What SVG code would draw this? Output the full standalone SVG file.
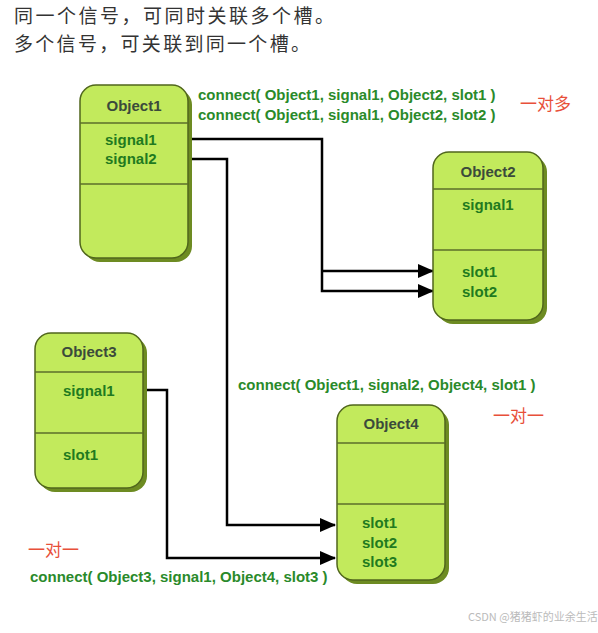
<svg xmlns="http://www.w3.org/2000/svg" width="598" height="633" viewBox="0 0 598 633">
<style>
.cn{font-family:"Noto Sans CJK SC",sans-serif;font-size:19px;fill:#333}
.red{font-family:"Noto Sans CJK SC",sans-serif;font-size:17px;fill:#e8503a}
.code{font-family:"Liberation Sans",Arial,sans-serif;font-size:15px;font-weight:bold;fill:#2a8a2a}
.title{font-family:"Liberation Sans",Arial,sans-serif;font-size:15px;font-weight:bold;fill:#3b4a3b;text-anchor:middle}
.item{font-family:"Liberation Sans",Arial,sans-serif;font-size:15px;font-weight:bold;fill:#1f7a1f}
.shadow{fill:#6d8b22}
.box{fill:#c2ea5c;stroke:#50661c;stroke-width:1.5}
.div{stroke:#5b6e2a;stroke-width:1.5}
.wire{fill:none;stroke:#000;stroke-width:2.5}
.wm{font-family:"Noto Sans CJK SC",sans-serif;font-size:11px;fill:#bbb}
</style>
<defs>
<marker id="arr" markerWidth="16" markerHeight="14" refX="15" refY="7" orient="auto" markerUnits="userSpaceOnUse">
<path d="M0,0 L16,7 L0,14 Z" fill="#000"/>
</marker>
</defs>
<text class="cn" x="14" y="23" textLength="320" lengthAdjust="spacing">同一个信号，可同时关联多个槽。</text>
<text class="cn" x="14" y="51" textLength="296" lengthAdjust="spacing">多个信号，可关联到同一个槽。</text>
<g id="connectors">
<polyline class="wire" points="190,139 322,139 322,291 433,291" marker-end="url(#arr)"/>
<polyline class="wire" points="322,271 433,271" marker-end="url(#arr)"/>
<polyline class="wire" points="190,159 227,159 227,525 335,525" marker-end="url(#arr)"/>
<polyline class="wire" points="145,390 167,390 167,558 335,558" marker-end="url(#arr)"/>
</g>
<g id="object1">
<rect class="shadow" x="84" y="89" width="108" height="173" rx="16"/>
<rect class="box" x="80" y="85" width="108" height="173" rx="16"/>
<line class="div" x1="80" y1="123" x2="188" y2="123"/>
<line class="div" x1="80" y1="184" x2="188" y2="184"/>
<text class="title" x="134" y="111">Object1</text>
<text class="item" x="105" y="145">signal1</text>
<text class="item" x="105" y="164">signal2</text>
</g>
<g id="object2">
<rect class="shadow" x="437" y="156" width="110" height="168" rx="16"/>
<rect class="box" x="433" y="152" width="110" height="168" rx="16"/>
<line class="div" x1="433" y1="189" x2="543" y2="189"/>
<line class="div" x1="433" y1="250" x2="543" y2="250"/>
<text class="title" x="488" y="177">Object2</text>
<text class="item" x="462" y="210">signal1</text>
<text class="item" x="462" y="277">slot1</text>
<text class="item" x="462" y="297">slot2</text>
</g>
<g id="object3">
<rect class="shadow" x="39" y="337" width="108" height="155" rx="16"/>
<rect class="box" x="35" y="333" width="108" height="155" rx="16"/>
<line class="div" x1="35" y1="372" x2="143" y2="372"/>
<line class="div" x1="35" y1="433" x2="143" y2="433"/>
<text class="title" x="89" y="357">Object3</text>
<text class="item" x="63" y="396">signal1</text>
<text class="item" x="63" y="460">slot1</text>
</g>
<g id="object4">
<rect class="shadow" x="341" y="409" width="108" height="175" rx="16"/>
<rect class="box" x="337" y="405" width="108" height="175" rx="16"/>
<line class="div" x1="337" y1="443" x2="445" y2="443"/>
<line class="div" x1="337" y1="504" x2="445" y2="504"/>
<text class="title" x="391" y="429">Object4</text>
<text class="item" x="362" y="528">slot1</text>
<text class="item" x="362" y="548">slot2</text>
<text class="item" x="362" y="567">slot3</text>
</g>
<text class="code" x="198" y="100">connect( Object1, signal1, Object2, slot1 )</text>
<text class="code" x="198" y="120">connect( Object1, signal1, Object2, slot2 )</text>
<text class="red" x="520" y="110">一对多</text>
<text class="code" x="238" y="390">connect( Object1, signal2, Object4, slot1 )</text>
<text class="red" x="493" y="422">一对一</text>
<text class="red" x="28" y="556">一对一</text>
<text class="code" x="30" y="582">connect( Object3, signal1, Object4, slot3 )</text>
<text class="wm" x="468" y="621">CSDN @猪猪虾的业余生活</text>
</svg>
